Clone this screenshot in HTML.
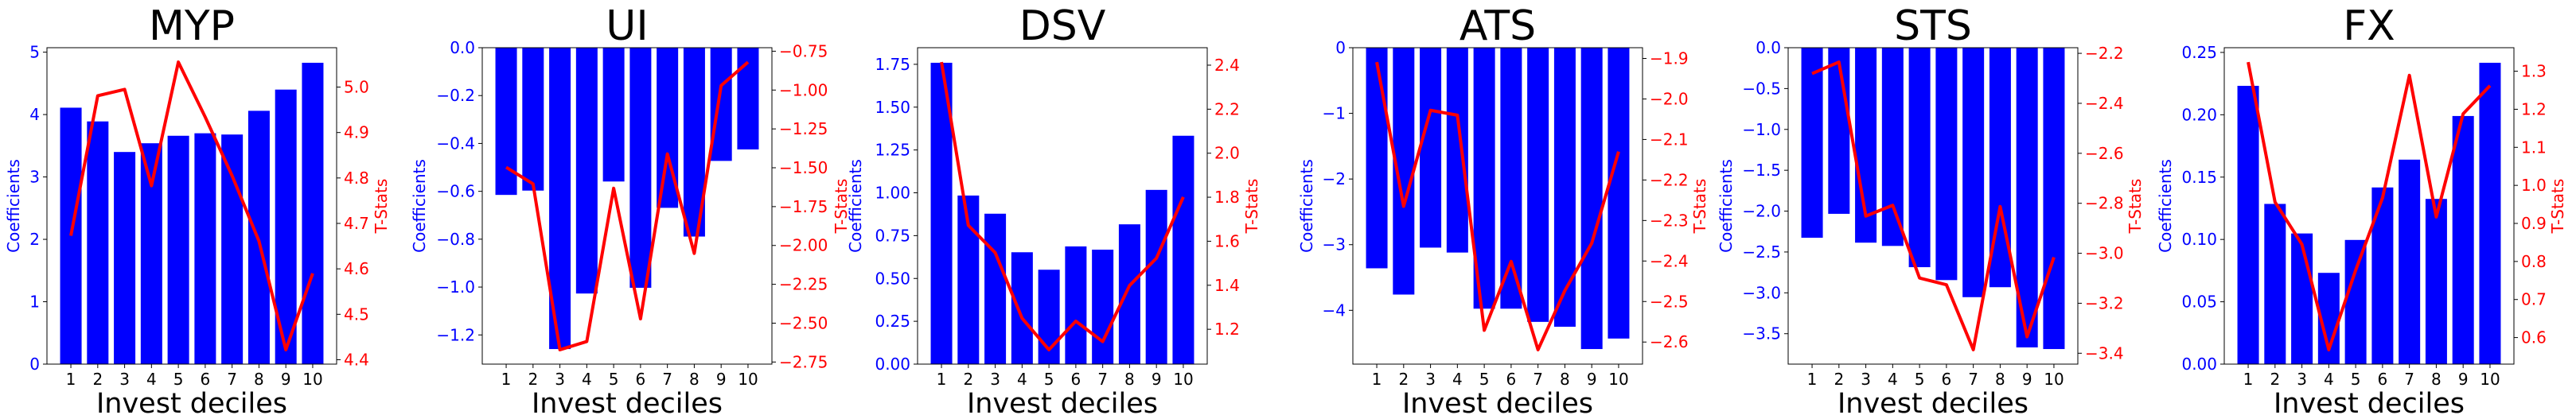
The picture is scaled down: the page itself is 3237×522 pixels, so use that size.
<!DOCTYPE html>
<html><head><meta charset="utf-8">
<style>
html,body{margin:0;padding:0;background:#fff;}
svg{display:block;font-family:"DejaVu Sans","Liberation Sans",sans-serif;}
</style></head>
<body>
<svg id="chart" width="3237" height="522" viewBox="0 0 3237 522" xmlns="http://www.w3.org/2000/svg"></svg>
<script>
const categories = [1,2,3,4,5,6,7,8,9,10];
const titles = ["MYP","UI","DSV","ATS","STS","FX"];
const mypCoef = [4.11,3.89,3.40,3.54,3.66,3.70,3.68,4.06,4.40,4.83];
const mypTstat = [4.673,4.981,4.995,4.783,5.055,4.934,4.805,4.661,4.422,4.590];
const uiCoef = [-0.615,-0.597,-1.259,-1.027,-0.559,-1.003,-0.669,-0.789,-0.473,-0.425];
const uiTstat = [-1.497,-1.604,-2.671,-2.618,-1.632,-2.472,-1.411,-2.051,-0.971,-0.820];
const dsvCoef = [1.759,0.984,0.878,0.653,0.551,0.687,0.668,0.816,1.017,1.333];
const dsvTstat = [2.414,1.672,1.548,1.250,1.107,1.237,1.144,1.399,1.523,1.801];
const atsCoef = [-3.36,-3.76,-3.045,-3.12,-3.975,-3.975,-4.176,-4.25,-4.59,-4.43];
const atsTstat = [-1.909,-2.265,-2.028,-2.040,-2.571,-2.401,-2.619,-2.473,-2.356,-2.130];
const stsCoef = [-2.326,-2.033,-2.386,-2.426,-2.686,-2.844,-3.053,-2.931,-3.668,-3.688];
const stsTstat = [-2.281,-2.235,-2.851,-2.808,-3.099,-3.126,-3.386,-2.813,-3.334,-3.016];
const fxCoef = [0.2232,0.1285,0.1048,0.0732,0.0996,0.1417,0.164,0.1325,0.199,0.2417];
const fxTstat = [1.324,0.956,0.845,0.568,0.777,0.967,1.289,0.917,1.188,1.262];
const mypLeftTicks = [0,1,2,3,4,5];
const mypRightTicks = [4.4,4.5,4.6,4.7,4.8,4.9,5.0];
const uiLeftTicks = [0,-0.2,-0.4,-0.6,-0.8,-1.0,-1.2];
const uiRightTicks = [-0.75,-1.0,-1.25,-1.5,-1.75,-2.0,-2.25,-2.5,-2.75];
const dsvLeftTicks = [0,0.25,0.5,0.75,1.0,1.25,1.5,1.75];
const dsvRightTicks = [1.2,1.4,1.6,1.8,2.0,2.2,2.4];
const atsLeftTicks = [0,-1,-2,-3,-4];
const atsRightTicks = [-1.9,-2.0,-2.1,-2.2,-2.3,-2.4,-2.5,-2.6];
const stsLeftTicks = [0,-0.5,-1.0,-1.5,-2.0,-2.5,-3.0,-3.5];
const stsRightTicks = [-2.2,-2.4,-2.6,-2.8,-3.0,-3.2,-3.4];
const fxLeftTicks = [0,0.05,0.1,0.15,0.2,0.25];
const fxRightTicks = [0.6,0.7,0.8,0.9,1.0,1.1,1.2,1.3];
const leftDecimals = [0,1,2,0,1,2];
const rightDecimals = [1,2,1,1,1,1];

const coefs = [mypCoef,uiCoef,dsvCoef,atsCoef,stsCoef,fxCoef];
const tstats = [mypTstat,uiTstat,dsvTstat,atsTstat,stsTstat,fxTstat];
const leftTicks = [mypLeftTicks,uiLeftTicks,dsvLeftTicks,atsLeftTicks,stsLeftTicks,fxLeftTicks];
const rightTicks = [mypRightTicks,uiRightTicks,dsvRightTicks,atsRightTicks,stsRightTicks,fxRightTicks];

const axLefts = [59,606,1153,1700,2247,2795];
const yLabelOff = [42,79,78,58,78,74];
const tLabelOff = [56,87,56,72,72,55];
const AW = 364, TOP = 60, BOT = 458;
const NS = "http://www.w3.org/2000/svg";
const svg = document.getElementById('chart');

function mk(tag, attrs, parent){
  const e = document.createElementNS(NS, tag);
  for (const k in attrs) e.setAttribute(k, attrs[k]);
  parent.appendChild(e);
  return e;
}
function fmt(v,d){ const s = Math.abs(v).toFixed(d); return (v < -1e-9 ? "\u2212" : "") + s; }

for (let p = 0; p < 6; p++) {
  const L = axLefts[p], R = L + AW;
  const g = mk('g', {}, svg);
  
  
  const cs = coefs[p], ts = tstats[p];
  // x scale
  const xmin = 0.11, xmax = 10.89;
  const xs = v => L + (v - xmin) / (xmax - xmin) * AW;
  // left y scale
  const cmax = Math.max(0, ...cs), cmin = Math.min(0, ...cs);
  const lTop = cmax > 0 ? cmax + 0.05 * (cmax - cmin) : 0;
  const lBot = cmin < 0 ? cmin - 0.05 * (cmax - cmin) : 0;
  const yl = v => BOT - (v - lBot) / (lTop - lBot) * (BOT - TOP);
  // right y scale
  const tmax = Math.max(...ts), tmin = Math.min(...ts), tr = tmax - tmin;
  const rTop = tmax + 0.05 * tr, rBot = tmin - 0.05 * tr;
  const yr = v => BOT - (v - rBot) / (rTop - rBot) * (BOT - TOP);

  // bars
  cs.forEach((v, i) => {
    const x0 = xs(categories[i] - 0.4), x1 = xs(categories[i] + 0.4);
    const y0 = yl(0), y1 = yl(v);
    const r = mk('rect', {x: x0, y: Math.min(y0, y1), width: x1 - x0, height: Math.abs(y1 - y0), fill: '#0000ff'}, g);
    
    
  });
  // line
  const pts = ts.map((v, i) => xs(categories[i]).toFixed(2) + ',' + yr(v).toFixed(2)).join(' ');
  const ln = mk('polyline', {points: pts, fill: 'none', stroke: '#ff0000', 'stroke-width': 4, 'stroke-linejoin': 'round'}, g);
  
  
  // frame
  const fr = mk('rect', {x: L, y: TOP, width: AW, height: BOT - TOP, fill: 'none', stroke: '#000', 'stroke-width': 1}, g);
  
  
  // x ticks
  categories.forEach(c => {
    const x = xs(c);
    mk('line', {x1: x, y1: BOT, x2: x, y2: BOT + 5, stroke: '#000', 'stroke-width': 1}, g);
    const t = mk('text', {x: x, y: 484, 'font-size': 20, 'text-anchor': 'middle', fill: '#000'}, g);
    t.textContent = c;
    
    
  });
  // left ticks
  leftTicks[p].forEach(v => {
    const y = yl(v);
    mk('line', {x1: L - 5, y1: y, x2: L, y2: y, stroke: '#000', 'stroke-width': 1}, g);
    const t = mk('text', {x: L - 9, y: y + 7, 'font-size': 20, 'text-anchor': 'end', fill: '#0000ff'}, g);
    t.textContent = fmt(v, leftDecimals[p]);
    
    
  });
  // right ticks
  rightTicks[p].forEach(v => {
    const y = yr(v);
    mk('line', {x1: R, y1: y, x2: R + 5, y2: y, stroke: '#000', 'stroke-width': 1}, g);
    const t = mk('text', {x: R + 9, y: y + 7, 'font-size': 20, 'text-anchor': 'start', fill: '#ff0000'}, g);
    t.textContent = fmt(v, rightDecimals[p]);
    
    
  });
  // title
  const ti = mk('text', {x: L + AW / 2, y: 50, 'font-size': 52, 'text-anchor': 'middle', fill: '#000'}, g);
  ti.textContent = titles[p];
  
  
  // x label
  const xl = mk('text', {x: L + AW / 2, y: 519, 'font-size': 35, 'text-anchor': 'middle', fill: '#000'}, g);
  xl.textContent = 'Invest deciles';
  
  
  // y labels
  const cy = (TOP + BOT) / 2;
  const lx = L - yLabelOff[p];
  const yla = mk('text', {x: lx, y: cy, 'font-size': 20, 'text-anchor': 'middle', 'dominant-baseline': 'central', fill: '#0000ff', transform: 'rotate(-90 ' + lx + ' ' + cy + ')'}, g);
  yla.textContent = 'Coefficients';
  
  
  const rx = R + tLabelOff[p];
  const yra = mk('text', {x: rx, y: cy, 'font-size': 20, 'text-anchor': 'middle', 'dominant-baseline': 'central', fill: '#ff0000', transform: 'rotate(-90 ' + rx + ' ' + cy + ')'}, g);
  yra.textContent = 'T-Stats';
  
  
}
</script>
</body></html>
